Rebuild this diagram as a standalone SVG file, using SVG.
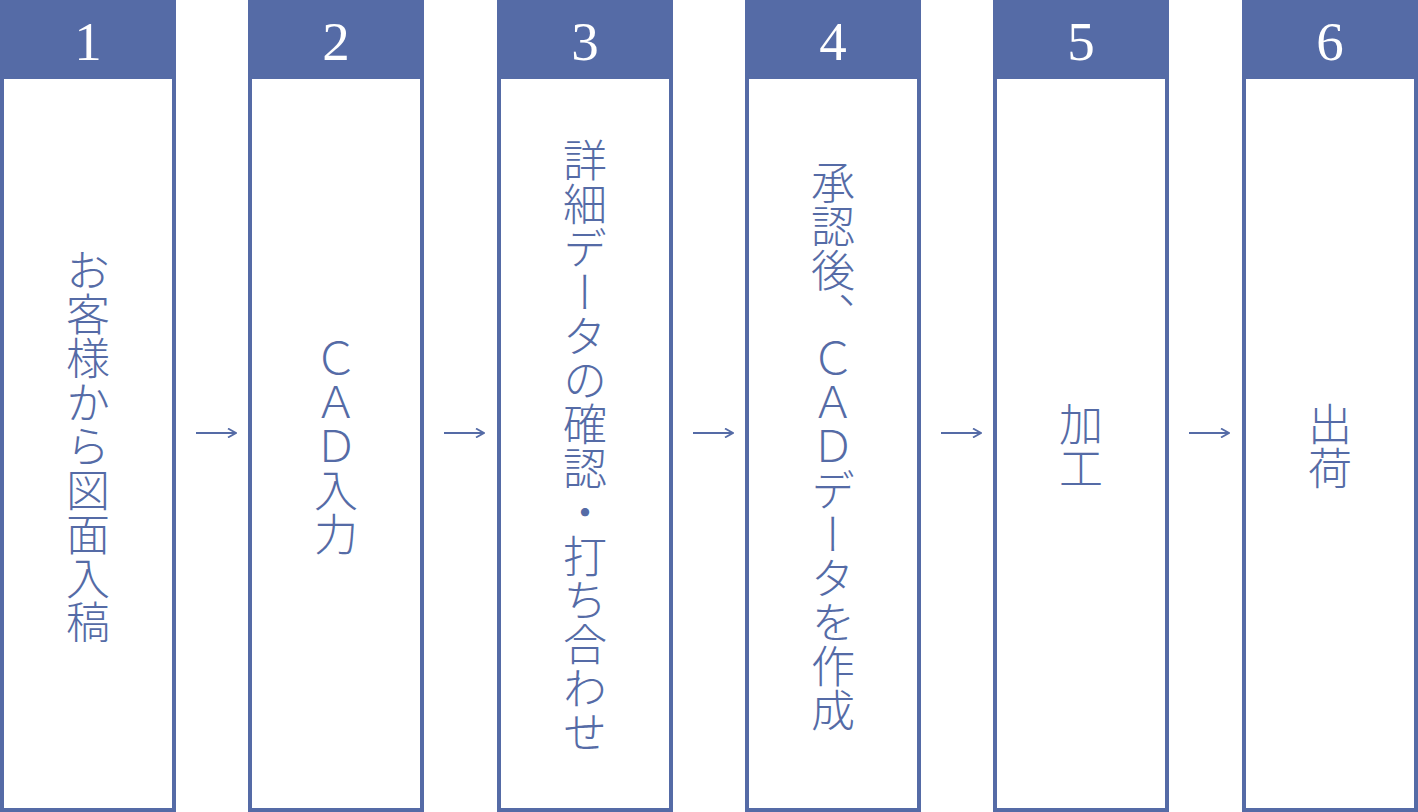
<svg xmlns="http://www.w3.org/2000/svg" width="1418" height="812" viewBox="0 0 1418 812">
<style>
.box{fill:#fff;stroke:#556ba6;stroke-width:4}
.head{fill:#556ba6}
.num{fill:#fff;font-family:"Liberation Serif","DejaVu Serif",serif;font-size:55px;text-anchor:middle}
.lbl{fill:#556ba6;font-family:"Noto Sans CJK JP",sans-serif;font-size:44px;font-weight:300;writing-mode:vertical-rl;text-anchor:middle;dominant-baseline:central}
.conn{fill:none;stroke:#556ba6;stroke-width:1.8}
</style>
<defs>
<marker id="ah" viewBox="0 0 10 10" refX="9" refY="5" markerWidth="10" markerHeight="10" markerUnits="userSpaceOnUse" orient="auto"><path d="M1,0.5 L9,5 L1,9.5" fill="none" stroke="#556ba6" stroke-width="1.8"/></marker>
</defs>
<rect width="1418" height="812" fill="#fff"/>
<g id="node1"><rect class="box" x="2" y="2" width="172" height="808"/><rect class="head" x="0" y="0" width="176" height="79"/><text class="num" x="88" y="60">1</text><text class="lbl" x="88" y="446">お客様から図面入稿</text></g>
<g id="node2"><rect class="box" x="250" y="2" width="172" height="808"/><rect class="head" x="248" y="0" width="176" height="79"/><text class="num" x="336" y="60">2</text><text class="lbl" x="336" y="446">ＣＡＤ入力</text></g>
<g id="node3"><rect class="box" x="499" y="2" width="172" height="808"/><rect class="head" x="497" y="0" width="176" height="79"/><text class="num" x="585" y="60">3</text><text class="lbl" x="585" y="446">詳細データの確認・打ち合わせ</text></g>
<g id="node4"><rect class="box" x="747" y="2" width="172" height="808"/><rect class="head" x="745" y="0" width="176" height="79"/><text class="num" x="833" y="60">4</text><text class="lbl" x="833" y="446">承認後、ＣＡＤデータを作成</text></g>
<g id="node5"><rect class="box" x="995" y="2" width="172" height="808"/><rect class="head" x="993" y="0" width="176" height="79"/><text class="num" x="1081" y="60">5</text><text class="lbl" x="1081" y="446">加工</text></g>
<g id="node6"><rect class="box" x="1244" y="2" width="172" height="808"/><rect class="head" x="1242" y="0" width="176" height="79"/><text class="num" x="1330" y="60">6</text><text class="lbl" x="1330" y="446">出荷</text></g>
<g id="connectors">
<line class="conn" x1="196" y1="433" x2="236" y2="433" marker-end="url(#ah)"/>
<line class="conn" x1="444" y1="433" x2="484" y2="433" marker-end="url(#ah)"/>
<line class="conn" x1="693" y1="433" x2="733" y2="433" marker-end="url(#ah)"/>
<line class="conn" x1="941" y1="433" x2="981" y2="433" marker-end="url(#ah)"/>
<line class="conn" x1="1189" y1="433" x2="1229" y2="433" marker-end="url(#ah)"/>
</g>
</svg>
